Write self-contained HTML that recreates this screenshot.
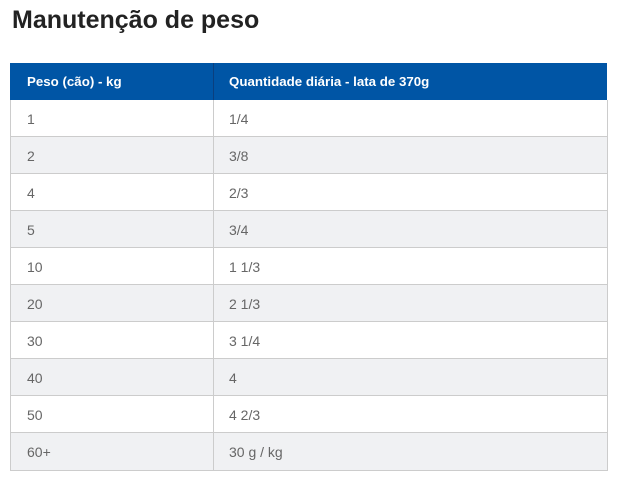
<!DOCTYPE html>
<html>
<head>
<meta charset="utf-8">
<style>
  html, body { margin:0; padding:0; background:#fff; }
  body { width:619px; height:481px; position:relative; overflow:hidden; font-family:"Liberation Sans", sans-serif; }
  h1 { position:absolute; left:12px; top:1px; margin:0; font-size:25px; font-weight:bold; color:#222; line-height:38px; white-space:nowrap; }
  .tbl { position:absolute; left:10px; top:63px; width:597px; }
  .hdr { position:absolute; left:0; top:0; width:597px; height:37px; background:#0055a5; }
  .hdr .c { position:absolute; top:0; height:37px; line-height:37px; color:#fff; font-weight:bold; font-size:13.3px; white-space:nowrap; }
  .hdiv { position:absolute; left:203px; top:0; width:1px; height:37px; background:#0a3f7e; }
  .row { position:absolute; left:0; width:596px; height:36px; border-left:1px solid #cccccc; border-right:1px solid #cccccc; border-bottom:1px solid #cccccc; box-sizing:content-box; }
  .row .c { position:absolute; top:1px; height:36px; line-height:36px; color:#666; font-size:14px; white-space:nowrap; }
  .row .d { position:absolute; left:202px; top:0; width:1px; height:100%; background:#cccccc; }
  .g { background:#f0f1f3; }
  .c1 { left:17px; }
  .c2 { left:219px; }
  .row .c2 { left:218px; }
  .row .c1 { left:16px; }
</style>
</head>
<body>
<h1>Manutenção de peso</h1>
<div class="tbl">
  <div class="hdr">
    <div class="c c1">Peso (cão) - kg</div>
    <div class="hdiv"></div>
    <div class="c c2">Quantidade diária - lata de 370g</div>
  </div>
  <div class="row" style="top:37px"><div class="c c1">1</div><div class="d"></div><div class="c c2">1/4</div></div>
  <div class="row g" style="top:74px"><div class="c c1">2</div><div class="d"></div><div class="c c2">3/8</div></div>
  <div class="row" style="top:111px"><div class="c c1">4</div><div class="d"></div><div class="c c2">2/3</div></div>
  <div class="row g" style="top:148px"><div class="c c1">5</div><div class="d"></div><div class="c c2">3/4</div></div>
  <div class="row" style="top:185px"><div class="c c1">10</div><div class="d"></div><div class="c c2">1 1/3</div></div>
  <div class="row g" style="top:222px"><div class="c c1">20</div><div class="d"></div><div class="c c2">2 1/3</div></div>
  <div class="row" style="top:259px"><div class="c c1">30</div><div class="d"></div><div class="c c2">3 1/4</div></div>
  <div class="row g" style="top:296px"><div class="c c1">40</div><div class="d"></div><div class="c c2">4</div></div>
  <div class="row" style="top:333px"><div class="c c1">50</div><div class="d"></div><div class="c c2">4 2/3</div></div>
  <div class="row g" style="top:370px;height:37px"><div class="c c1">60+</div><div class="d"></div><div class="c c2">30 g / kg</div></div>
</div>
</body>
</html>
